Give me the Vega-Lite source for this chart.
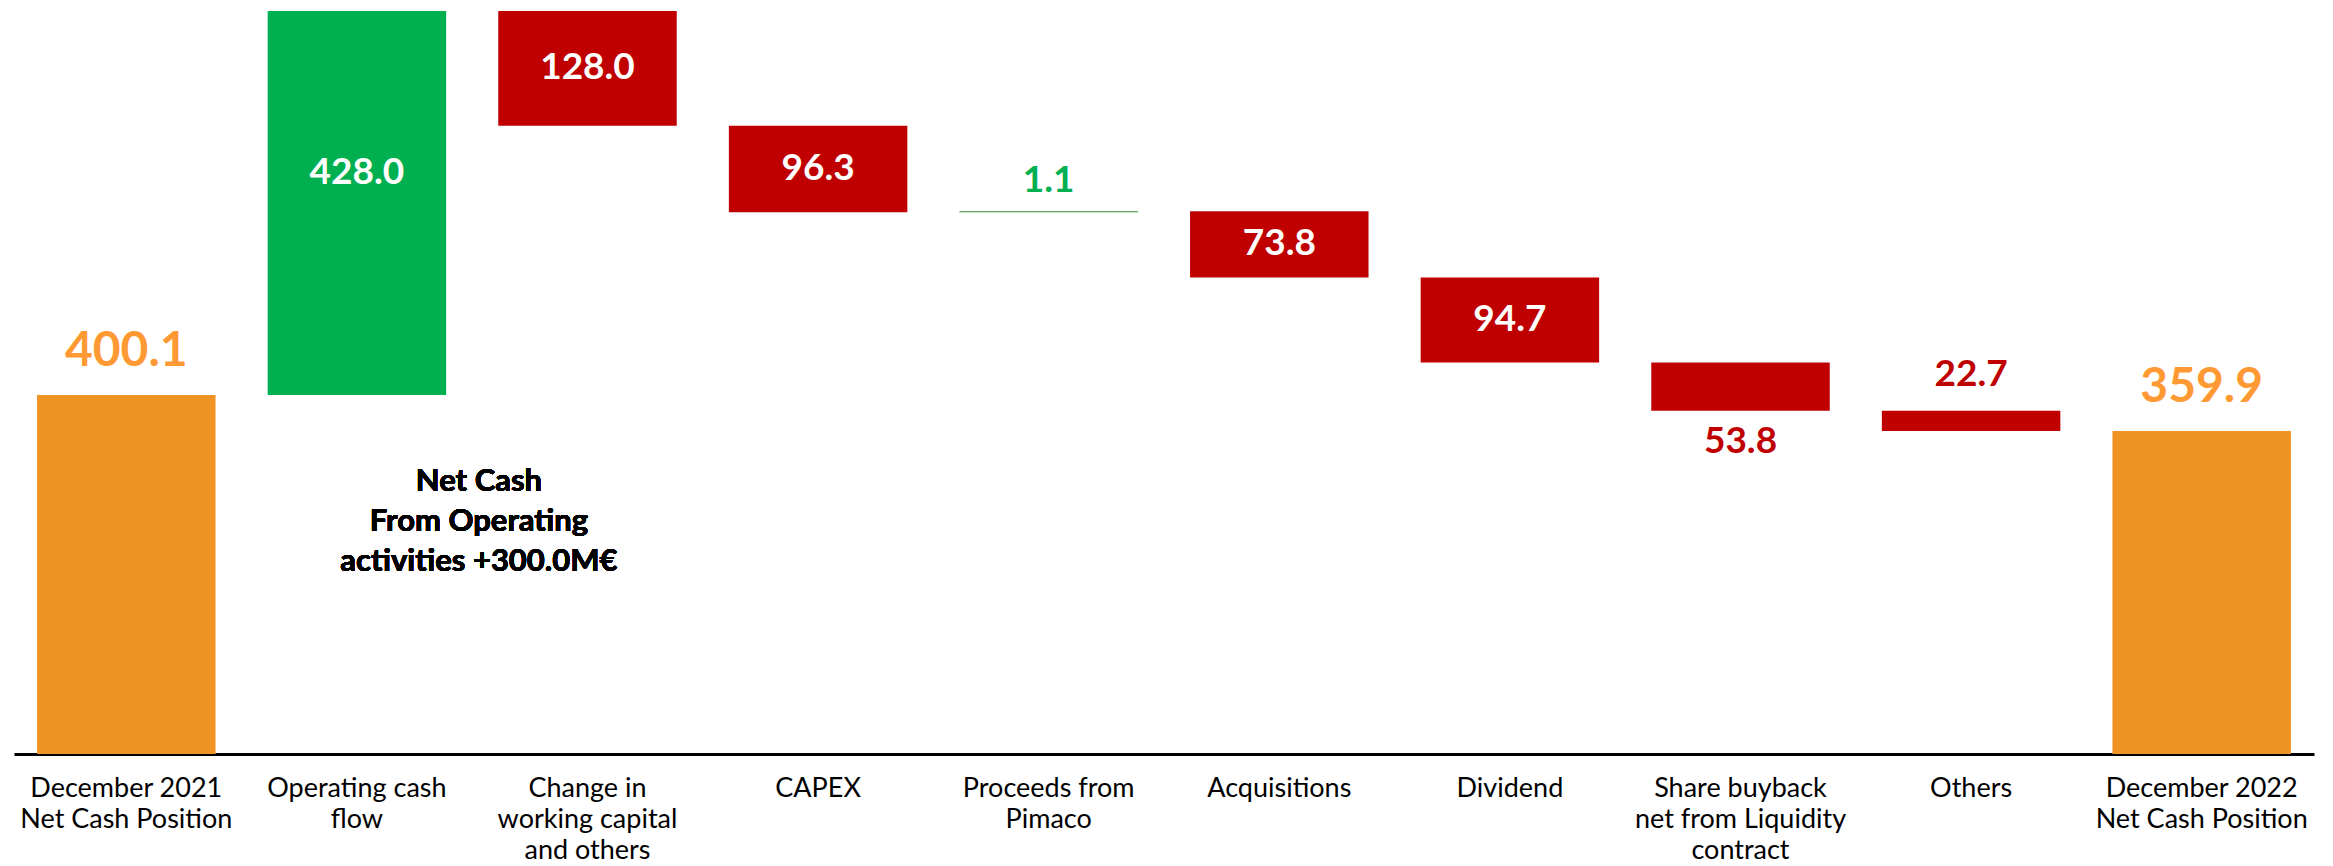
{
  "$schema": "https://vega.github.io/schema/vega-lite/v6.json",
  "width": 2300,
  "height": 754,
  "autosize": {"type": "none"},
  "padding": {"left": 14, "top": 0, "right": 19, "bottom": 112},
  "background": "white",
  "config": {"view": {"stroke": null}, "font": "Lato"},
  "data": {
    "values": [
      {"category": "December 2021 Net Cash Position", "start": 0, "end": 400.1, "amount": 400.1},
      {"category": "Operating cash flow", "start": 400.1, "end": 828.1, "amount": 428.0},
      {"category": "Change in working capital and others", "start": 828.1, "end": 700.1, "amount": 128.0},
      {"category": "CAPEX", "start": 700.1, "end": 603.8, "amount": 96.3},
      {"category": "Proceeds from Pimaco", "start": 603.8, "end": 604.9, "amount": 1.1},
      {"category": "Acquisitions", "start": 604.9, "end": 531.1, "amount": 73.8},
      {"category": "Dividend", "start": 531.1, "end": 436.4, "amount": 94.7},
      {"category": "Share buyback net from Liquidity contract", "start": 436.4, "end": 382.6, "amount": 53.8},
      {"category": "Others", "start": 382.6, "end": 359.9, "amount": 22.7},
      {"category": "December 2022 Net Cash Position", "start": 0, "end": 359.9, "amount": 359.9}
    ]
  },
  "transform": [
    {"calculate": "(datum.start + datum.end) / 2", "as": "mid"},
    {"calculate": "max(datum.start, datum.end)", "as": "top"},
    {"calculate": "min(datum.start, datum.end)", "as": "bottom"}
  ],
  "encoding": {
    "x": {
      "field": "category",
      "type": "nominal",
      "sort": null,
      "scale": {"paddingInner": 0.226, "paddingOuter": 0.1},
      "axis": {
        "title": null,
        "labelAngle": 0,
        "ticks": false,
        "domainColor": "#000000",
        "domainWidth": 3,
        "labelFont": "Lato",
        "labelFontSize": 27,
        "labelColor": "#000000",
        "labelPadding": 21,
        "labelLineHeight": 31,
        "labelBaseline": "top",
        "labelOverlap": false,
        "labelBound": false,
        "labelLimit": 400,
        "labelExpr": "datum.value == 'December 2021 Net Cash Position' ? ['December 2021', 'Net Cash Position'] : datum.value == 'Operating cash flow' ? ['Operating cash', 'flow'] : datum.value == 'Change in working capital and others' ? ['Change in', 'working capital', 'and others'] : datum.value == 'Proceeds from Pimaco' ? ['Proceeds from', 'Pimaco'] : datum.value == 'Share buyback net from Liquidity contract' ? ['Share buyback', 'net from Liquidity', 'contract'] : datum.value == 'December 2022 Net Cash Position' ? ['December 2022', 'Net Cash Position'] : datum.value"
      }
    }
  },
  "layer": [
    {
      "mark": {"type": "bar"},
      "encoding": {
        "y": {"field": "start", "type": "quantitative", "scale": {"domain": [0, 840.3], "nice": false, "zero": true}, "axis": null},
        "y2": {"field": "end"},
        "color": {
          "field": "category",
          "type": "nominal",
          "legend": null,
          "scale": {
            "domain": ["December 2021 Net Cash Position", "Operating cash flow", "Change in working capital and others", "CAPEX", "Proceeds from Pimaco", "Acquisitions", "Dividend", "Share buyback net from Liquidity contract", "Others", "December 2022 Net Cash Position"],
            "range": ["#F09325", "#00B050", "#C00000", "#C00000", "#2E8B2E", "#C00000", "#C00000", "#C00000", "#C00000", "#F09325"]
          }
        }
      }
    },
    {
      "transform": [{"filter": {"field": "category", "oneOf": ["Change in working capital and others", "CAPEX", "Acquisitions", "Dividend"]}}],
      "mark": {"type": "text", "fontWeight": "bold", "fontSize": 37, "color": "#FFFFFF", "baseline": "middle", "align": "center"},
      "encoding": {
        "y": {"field": "mid", "type": "quantitative"},
        "text": {"field": "amount", "type": "quantitative", "format": ".1f"}
      }
    },
    {
      "transform": [{"filter": {"field": "category", "equal": "Operating cash flow"}}],
      "mark": {"type": "text", "fontWeight": "bold", "fontSize": 37, "color": "#FFFFFF", "baseline": "middle", "align": "center", "dy": -30},
      "encoding": {
        "y": {"field": "mid", "type": "quantitative"},
        "text": {"field": "amount", "type": "quantitative", "format": ".1f"}
      }
    },
    {
      "transform": [{"filter": {"field": "category", "oneOf": ["December 2021 Net Cash Position", "December 2022 Net Cash Position"]}}],
      "mark": {"type": "text", "fontWeight": "bold", "fontSize": 48, "color": "#FF9933", "baseline": "alphabetic", "align": "center", "dy": -29},
      "encoding": {
        "y": {"field": "top", "type": "quantitative"},
        "text": {"field": "amount", "type": "quantitative", "format": ".1f"}
      }
    },
    {
      "transform": [{"filter": {"field": "category", "equal": "Proceeds from Pimaco"}}],
      "mark": {"type": "text", "fontWeight": "bold", "fontSize": 37, "color": "#00B050", "baseline": "alphabetic", "align": "center", "dy": -19},
      "encoding": {
        "y": {"field": "top", "type": "quantitative"},
        "text": {"field": "amount", "type": "quantitative", "format": ".1f"}
      }
    },
    {
      "transform": [{"filter": {"field": "category", "equal": "Others"}}],
      "mark": {"type": "text", "fontWeight": "bold", "fontSize": 37, "color": "#C00000", "baseline": "alphabetic", "align": "center", "dy": -25},
      "encoding": {
        "y": {"field": "top", "type": "quantitative"},
        "text": {"field": "amount", "type": "quantitative", "format": ".1f"}
      }
    },
    {
      "transform": [{"filter": {"field": "category", "equal": "Share buyback net from Liquidity contract"}}],
      "mark": {"type": "text", "fontWeight": "bold", "fontSize": 37, "color": "#C00000", "baseline": "alphabetic", "align": "center", "dy": 42},
      "encoding": {
        "y": {"field": "bottom", "type": "quantitative"},
        "text": {"field": "amount", "type": "quantitative", "format": ".1f"}
      }
    },
    {
      "mark": {"type": "text", "fontWeight": "bold", "fontSize": 31, "color": "#000000", "baseline": "middle", "align": "center", "lineHeight": 40, "dx": 122},
      "encoding": {
        "x": {"datum": "Operating cash flow"},
        "y": {"datum": 303},
        "text": {"value": ["Net Cash", "From Operating", "activities +300.0M€"]}
      }
    }
  ]
}
